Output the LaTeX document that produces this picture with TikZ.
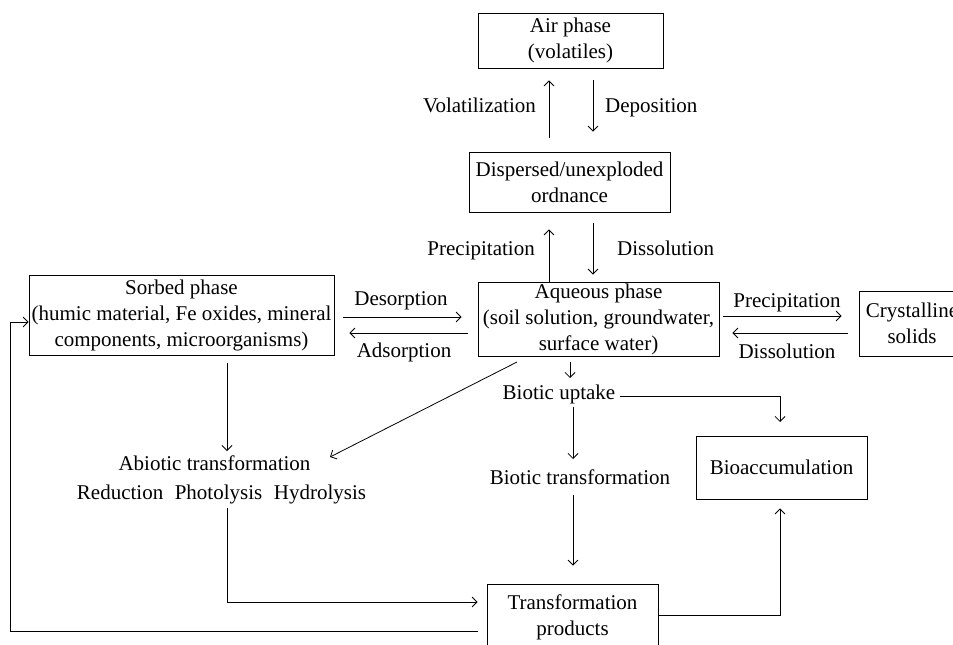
\documentclass[tikz,border=0pt]{standalone}
\usepackage{fontspec}
\setmainfont{Liberation Serif}
\usetikzlibrary{arrows.meta}
\begin{document}
\begin{tikzpicture}[x=1pt,y=-1pt,
  font=\fontsize{21}{26}\selectfont,
  box/.style={draw, line width=0.8pt, align=center, inner sep=0pt},
  lbl/.style={inner sep=0pt, align=center},
  arr/.style={-{Straight Barb[length=5pt,width=10pt]}, line width=0.8pt},
  ln/.style={line width=0.8pt}]
\useasboundingbox (0,0) rectangle (953,645);
\clip (0,0) rectangle (953,645);

% boxes
\node[box, minimum width=185pt, minimum height=55pt] (air) at (570.5,40.5) {Air phase\\(volatiles)};
\node[box, minimum width=201pt, minimum height=60pt] (disp) at (569.5,182) {Dispersed/unexploded\\ordnance};
\node[box, minimum width=241pt, minimum height=74pt] (aq) at (598.5,319) {Aqueous phase\\(soil solution, groundwater,\\surface water)};
\node[box, minimum width=305pt, minimum height=80pt] (sorb) at (181.5,315) {Sorbed phase\\(humic material, Fe oxides, mineral\\components, microorganisms)};
\node[box, minimum width=106pt, minimum height=65pt] (cryst) at (912,323.5) {Crystalline\\solids};
\node[box, minimum width=171pt, minimum height=63pt] (bioacc) at (781.5,467.5) {Bioaccumulation};
\node[box, minimum width=171pt, minimum height=67pt] (tp) at (572.5,617.5) {Transformation\\products};

% free text nodes
\node[lbl] (abio) at (214.5,463) {Abiotic transformation};
\node[lbl] (abmech) at (221.5,494) {Reduction\hspace{0.55em}Photolysis\hspace{0.55em}Hydrolysis};
\node[lbl] (uptake) at (559,394) {Biotic uptake};
\node[lbl] (biotr) at (580,477) {Biotic transformation};

% arrow labels
\node[lbl, anchor=east] (lvol) at (536,105) {Volatilization};
\node[lbl, anchor=west] (ldep) at (605,108) {Deposition};
\node[lbl, anchor=east] (lpre1) at (535,251) {Precipitation};
\node[lbl, anchor=west] (ldis1) at (617,248) {Dissolution};
\node[lbl] (ldes) at (401,301) {Desorption};
\node[lbl] (lads) at (404,352) {Adsorption};
\node[lbl] (lpre2) at (787,303) {Precipitation};
\node[lbl] (ldis2) at (787,351) {Dissolution};

% helper coordinates
\coordinate (xa) at (549,0);
\coordinate (xb) at (593,0);
\coordinate (y1) at (0,317);
\coordinate (y2) at (0,333);
\coordinate (y3) at (0,316);

% air <-> dispersed
\draw[arr, shorten <=14pt, shorten >=12pt] (disp.north -| xa) -- (air.south -| xa);
\draw[arr, shorten <=12pt, shorten >=20pt] (air.south -| xb) -- (disp.north -| xb);
% dispersed <-> aqueous
\draw[arr, shorten >=17pt] (aq.north -| xa) -- (disp.south -| xa);
\draw[arr, shorten <=11pt, shorten >=7pt] (disp.south -| xb) -- (aq.north -| xb);
% sorbed <-> aqueous
\draw[arr, shorten <=9pt, shorten >=16pt] (sorb.east |- y1) -- (aq.west |- y1);
\draw[arr, shorten <=10pt, shorten >=15pt] (aq.west |- y2) -- (sorb.east |- y2);
% aqueous <-> crystalline
\draw[arr, shorten <=4pt, shorten >=17pt] (aq.east |- y3) -- (cryst.west |- y3);
\draw[arr, shorten <=11pt, shorten >=13pt] (cryst.west |- y2) -- (aq.east |- y2);

% sorbed -> abiotic
\coordinate (s1) at (227,363);
\coordinate (s2) at (227,451);
\draw[arr] (s1) -- (s2);
% aqueous -> abiotic (diagonal)
\coordinate (d1) at (517,362);
\coordinate (d2) at (330,457);
\draw[arr] (d1) -- (d2);
% aqueous -> biotic uptake
\coordinate (u1) at (570,362);
\coordinate (u2) at (570,378);
\draw[arr] (u1) -- (u2);
% biotic uptake -> bioaccumulation
\coordinate (b1) at (620,396);
\coordinate (b2) at (780,422);
\draw[arr] (b1) -| (b2);
% biotic uptake -> biotic transformation
\coordinate (t1) at (573,407);
\coordinate (t2) at (573,459);
\draw[arr] (t1) -- (t2);
% biotic transformation -> transformation products
\coordinate (t3) at (573,495);
\draw[arr, shorten >=18pt] (t3) -- (tp.north -| t3);
% abiotic -> transformation products
\coordinate (a1) at (227,508);
\coordinate (a2) at (0,602);
\draw[arr, shorten >=9pt] (a1) |- (tp.west |- a2);
% transformation products -> bioaccumulation
\coordinate (p1) at (0,615);
\coordinate (p2) at (780,0);
\draw[arr, shorten >=9pt] (tp.east |- p1) -| (bioacc.south -| p2);
% feedback: transformation products -> sorbed
\coordinate (f1) at (0,631);
\coordinate (f2) at (10,322);
\draw[arr, shorten <=9pt] (tp.west |- f1) -| (f2) -- (sorb.west |- f2);
\end{tikzpicture}
\end{document}
